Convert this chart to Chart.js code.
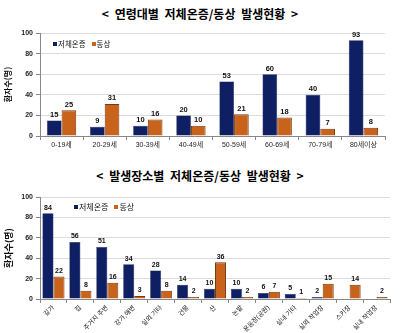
<!DOCTYPE html>
<html><head><meta charset="utf-8">
<script src="https://cdn.jsdelivr.net/npm/chart.js@4.4.0/dist/chart.umd.min.js"></script>
<style>
body{margin:0;width:400px;height:333px;overflow:hidden;background:#fff;position:relative;font-family:'Noto Sans CJK KR',sans-serif;}
.t{position:absolute;left:0;width:400px;text-align:center;font-weight:bold;font-size:12px;line-height:14px;color:#000;word-spacing:3px;}
canvas{position:absolute;left:0;}
.lg{position:absolute;font-size:7.5px;line-height:9px;color:#111;display:flex;align-items:center;white-space:nowrap}
.sq{display:inline-block;width:4px;height:4px;margin-right:1px}
</style></head><body>
<div class="t" style="top:7px">&lt; 연령대별 저체온증/동상 발생현황 &gt;</div>
<div class="t" style="top:169px">&lt; 발생장소별 저체온증/동상 발생현황 &gt;</div>
<div style="position:absolute;left:0;top:0;width:400px;height:165px"><canvas id="c1" width="400" height="165"></canvas></div>
<div style="position:absolute;left:0;top:165px;width:400px;height:168px"><canvas id="c2" width="400" height="168"></canvas></div>
<div class="lg" style="left:53px;top:39px"><span class="sq" style="background:#0f1f63"></span>저체온증<span class="sq" style="background:#c9621b;margin-left:6px"></span>동상</div>
<div class="lg" style="left:74px;top:202px;font-size:8px"><span class="sq" style="background:#0f1f63"></span>저체온증<span class="sq" style="background:#c9621b;margin-left:6px"></span>동상</div>
<script>
const seriesNames = ['저체온증', '동상'];
const ageCategories = ['0-19세','20-29세','30-39세','40-49세','50-59세','60-69세','70-79세','80세이상'];
const ageHypothermia = [15, 9, 10, 20, 53, 60, 40, 93];
const ageFrostbite = [25, 31, 16, 10, 21, 18, 7, 8];
const placeCategories = ['길가','집','주거지 주변','강가,해변','실외 기타','건물','산','논밭','운동장(공원)','실내 기타','실외 작업장','스키장','실내 작업장'];
const placeHypothermia = [84, 56, 51, 34, 28, 14, 10, 10, 6, 5, 2, 0, 0];
const placeFrostbite = [22, 8, 16, 3, 8, 2, 36, 2, 7, 1, 15, 14, 2];
const yTickValues = [0, 20, 40, 60, 80, 100];
const yAxisTitle = '환자수(명)';

const NAVY = '#0f1f63', NAVY_B = '#0a1540', ORANGE = '#c9621b', ORANGE_B = '#7a3a10';
Chart.defaults.font.family = "'Liberation Sans','Noto Sans CJK KR',sans-serif";
Chart.defaults.animation = false;

const valueLabels = {
  id: 'valueLabels',
  afterDatasetsDraw(chart, args, o) {
    const ctx = chart.ctx;
    ctx.save();
    ctx.font = `bold ${o.size}px 'Liberation Sans','Noto Sans CJK KR'`;
    ctx.fillStyle = '#111';
    ctx.textAlign = 'center';
    ctx.textBaseline = 'bottom';
    chart.data.datasets.forEach((ds, i) => {
      const meta = chart.getDatasetMeta(i);
      meta.data.forEach((bar, j) => {
        const v = ds.data[j];
        if (v > 0) ctx.fillText(String(v), bar.x, bar.y - o.gap);
      });
    });
    ctx.restore();
  }
};

function makeChart(id, labels, a, b, cfg) {
  return new Chart(document.getElementById(id), {
    type: 'bar',
    data: {
      labels: labels,
      datasets: [
        { label: seriesNames[0], data: a, backgroundColor: NAVY, borderColor: NAVY_B, borderWidth: 0.5 },
        { label: seriesNames[1], data: b, backgroundColor: ORANGE, borderColor: ORANGE_B, borderWidth: 1 }
      ]
    },
    options: {
      responsive: false,
      maintainAspectRatio: false,
      layout: { padding: { top: cfg.top, right: cfg.right, left: 0, bottom: 0 } },
      datasets: { bar: { categoryPercentage: cfg.cat, barPercentage: 1.0 } },
      plugins: {
        legend: { display: false },
        tooltip: { enabled: false },
        valueLabels: { size: cfg.labelSize, gap: 2 }
      },
      scales: {
        x: {
          grid: { drawOnChartArea: false, tickLength: 4, color: '#888' },
          border: { color: '#888' },
          ticks: { font: { size: cfg.xSize }, color: '#222', padding: 1, autoSkip: false,
                   maxRotation: cfg.rot, minRotation: cfg.rot },
          afterFit: s => { s.height = cfg.xh; }
        },
        y: {
          min: 0, max: 100,
          afterBuildTicks: s => { s.ticks = yTickValues.map(v => ({ value: v })); },
          grid: { color: '#dcdcdc', tickLength: 4, tickColor: '#888' },
          border: { color: '#888' },
          ticks: { font: { size: 7, weight: 'bold' }, color: '#222', padding: 3 },
          title: { display: true, text: yAxisTitle, font: { size: cfg.ySize, weight: 'bold', family: "'Noto Sans CJK KR'" }, color: '#111', padding: { top: 3, bottom: 0 } },
          afterFit: s => { s.width = 40; }
        }
      }
    },
    plugins: [valueLabels]
  });
}

makeChart('c1', ageCategories, ageHypothermia, ageFrostbite,
  { top: 33, right: 15, cat: 0.68, labelSize: 7.5, xSize: 7, rot: 0, xh: 29, ySize: 8 });
makeChart('c2', placeCategories, placeHypothermia, placeFrostbite,
  { top: 32, right: 10, cat: 0.82, labelSize: 7, xSize: 6.5, rot: 45, xh: 34, ySize: 9 });
</script>
</body></html>
